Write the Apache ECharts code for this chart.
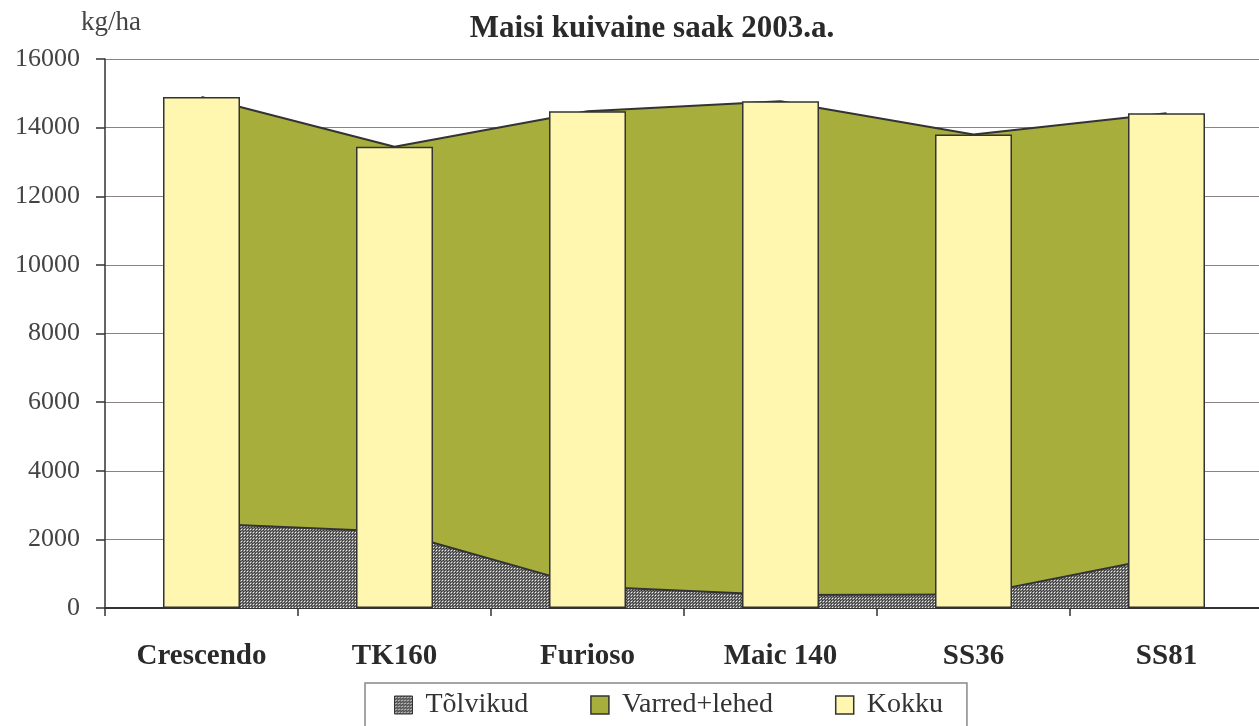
<!DOCTYPE html>
<html>
<head>
<meta charset="utf-8">
<script src="https://cdn.jsdelivr.net/npm/echarts@6/dist/echarts.min.js"></script>
<style>
html, body { margin: 0; padding: 0; background: #fff; }
#chart { width: 1259px; height: 726px; }
</style>
</head>
<body>
<div id="chart"></div>
<script>
var categories = ['Crescendo', 'TK160', 'Furioso', 'Maic 140', 'SS36', 'SS81'];
var tolvikud = [2460, 2220, 630, 380, 390, 1500];
var varred = [12430, 11225, 13850, 14390, 13410, 12920];
var kokku = [14890, 13445, 14480, 14770, 13800, 14420];
var yTicks = [0, 2000, 4000, 6000, 8000, 10000, 12000, 14000, 16000];

var font = '"Liberation Serif", "DejaVu Serif", serif';

// small hatch tile for Tõlvikud
function makeHatch() {
    var c = document.createElement('canvas');
    c.width = 3; c.height = 3;
    var ctx = c.getContext('2d');
    var cells = [
        ['#333333', '#6e6e6e', '#8e8e8e'],
        ['#6e6e6e', '#eeeeee', '#6e6e6e'],
        ['#8e8e8e', '#6e6e6e', '#333333']
    ];
    for (var r = 0; r < 3; r++) {
        for (var k = 0; k < 3; k++) {
            ctx.fillStyle = cells[r][k];
            ctx.fillRect(k, r, 1, 1);
        }
    }
    return c;
}
var hatch = { image: makeHatch(), repeat: 'repeat' };

var myChart = echarts.init(document.getElementById('chart'));
var option = {
    animation: false,
    textStyle: { fontFamily: font },
    title: {
        text: 'Maisi kuivaine saak 2003.a.',
        left: 647,
        textAlign: 'center',
        top: 8,
        textStyle: { fontFamily: font, fontSize: 31, fontWeight: 'bold', color: '#2a2a2a' }
    },
    legend: {
        left: 365,
        top: 683,
        padding: [8, 24, 20, 29],
        itemGap: 62,
        itemWidth: 18,
        itemHeight: 18,
        backgroundColor: '#fff',
        borderColor: '#888',
        borderWidth: 1.5,
        borderRadius: 0,
        textStyle: { fontFamily: font, fontSize: 28, color: '#333', padding: [0, 0, 0, 8] },
        data: [
            { name: 'Tõlvikud', icon: 'rect', itemStyle: { color: hatch, borderColor: '#333', borderWidth: 1 } },
            { name: 'Varred+lehed', icon: 'rect', itemStyle: { color: '#a7ae3b', borderColor: '#333', borderWidth: 1.5 } },
            { name: 'Kokku', icon: 'rect', itemStyle: { color: '#fff7b0', borderColor: '#333', borderWidth: 1.5 } }
        ]
    },
    grid: {
        left: 105,
        top: 59,
        width: 1158,
        height: 549,
        outerBoundsMode: 'none'
    },
    xAxis: {
        type: 'category',
        data: categories,
        boundaryGap: true,
        axisLine: { lineStyle: { color: '#333', width: 2 } },
        axisTick: { show: true, length: 8, lineStyle: { color: '#333', width: 1.5 } },
        axisLabel: { fontFamily: font, fontSize: 29, fontWeight: 'bold', color: '#2a2a2a', margin: 34 },
        splitLine: { show: false }
    },
    yAxis: {
        type: 'value',
        min: 0,
        max: 16000,
        interval: 2000,
        name: 'kg/ha',
        nameLocation: 'end',
        nameGap: 23,
        nameTextStyle: { fontFamily: font, fontSize: 27, color: '#444', align: 'center', padding: [0, 0, 0, 12] },
        axisLine: { show: true, lineStyle: { color: '#333', width: 1.5 } },
        axisTick: { show: true, length: 9, lineStyle: { color: '#333', width: 1.5 } },
        axisLabel: {
            fontFamily: font, fontSize: 26, color: '#444', margin: 25,
            formatter: function (v) { return yTicks.indexOf(v) >= 0 ? String(v) : ''; }
        },
        splitLine: { show: true, lineStyle: { color: '#8c8282', width: 1.2 } }
    },
    series: [
        {
            name: 'Tõlvikud',
            type: 'line',
            stack: 'saak',
            data: tolvikud,
            symbol: 'none',
            lineStyle: { color: '#333', width: 2 },
            itemStyle: { color: '#777' },
            areaStyle: { color: hatch, opacity: 1 },
            z: 2
        },
        {
            name: 'Varred+lehed',
            type: 'line',
            stack: 'saak',
            data: varred,
            symbol: 'none',
            lineStyle: { color: '#333', width: 2 },
            itemStyle: { color: '#a7ae3b' },
            areaStyle: { color: '#a7ae3b', opacity: 1 },
            z: 2
        },
        {
            name: 'Kokku',
            type: 'bar',
            data: kokku,
            barWidth: 77,
            itemStyle: { color: '#fff7b0', borderColor: '#333', borderWidth: 1.5 },
            z: 3
        }
    ]
};
myChart.setOption(option);
</script>
</body>
</html>
